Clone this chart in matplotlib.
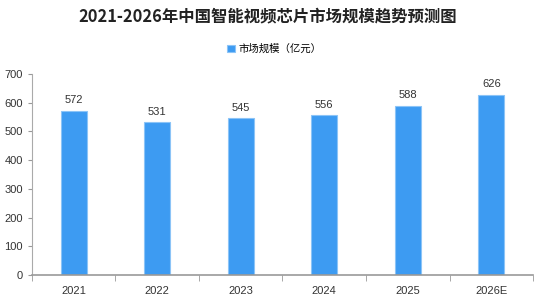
import matplotlib
matplotlib.use("Agg")
import matplotlib.pyplot as plt
import numpy as np

plt.rcParams['font.family'] = ['Liberation Sans', 'Noto Sans CJK SC', 'DejaVu Sans']

years = ["2021", "2022", "2023", "2024", "2025", "2026E"]
values = [572, 531, 545, 556, 588, 626]
series_name = "市场规模（亿元）"
title = "2021-2026年中国智能视频芯片市场规模趋势预测图"

fig = plt.figure(figsize=(5.49, 2.98), dpi=100)
ax = fig.add_axes([0.058, 0.077, 0.913, 0.675])

x = np.arange(len(years))
bars = ax.bar(x, values, width=0.31, color="#3d9bf2", edgecolor="#8cc4f7",
              linewidth=0.8, label=series_name)
for xi, v in zip(x, values):
    ax.text(xi, v + 20, str(v), ha="center", va="bottom", fontsize=8, color="#333333")

ax.set_xlim(-0.5, len(years) - 0.5)
ax.set_ylim(0, 700)
ax.set_yticks(range(0, 701, 100))
ax.set_xticks(x)
ax.set_xticklabels(years)
ax.set_xticks(np.arange(-0.5, len(years)), minor=True)
ax.tick_params(axis="x", which="major", length=0, labelsize=8, pad=8, colors="#333333")
ax.tick_params(axis="x", which="minor", length=4, color="#999999")
ax.tick_params(axis="y", length=3, color="#999999", labelsize=8, colors="#333333")

for s in ["top", "right"]:
    ax.spines[s].set_visible(False)
ax.spines["left"].set_color("#aaaaaa")
ax.spines["bottom"].set_color("#999999")
ax.spines["bottom"].set_linewidth(1.2)

fig.text(0.487, 0.945, title, ha="center", va="center", fontsize=11.8,
         fontweight="bold", family=['Noto Sans CJK SC', 'DejaVu Sans'], color="#222222")
fig.legend(handles=[bars], labels=[series_name], loc="center", bbox_to_anchor=(0.5, 0.835),
           frameon=False, handlelength=0.7, handleheight=0.7,
           handletextpad=0.4, prop={'family': ['Noto Sans CJK SC', 'DejaVu Sans'], 'size': 7.5})

fig.savefig("out.png", dpi=100)
